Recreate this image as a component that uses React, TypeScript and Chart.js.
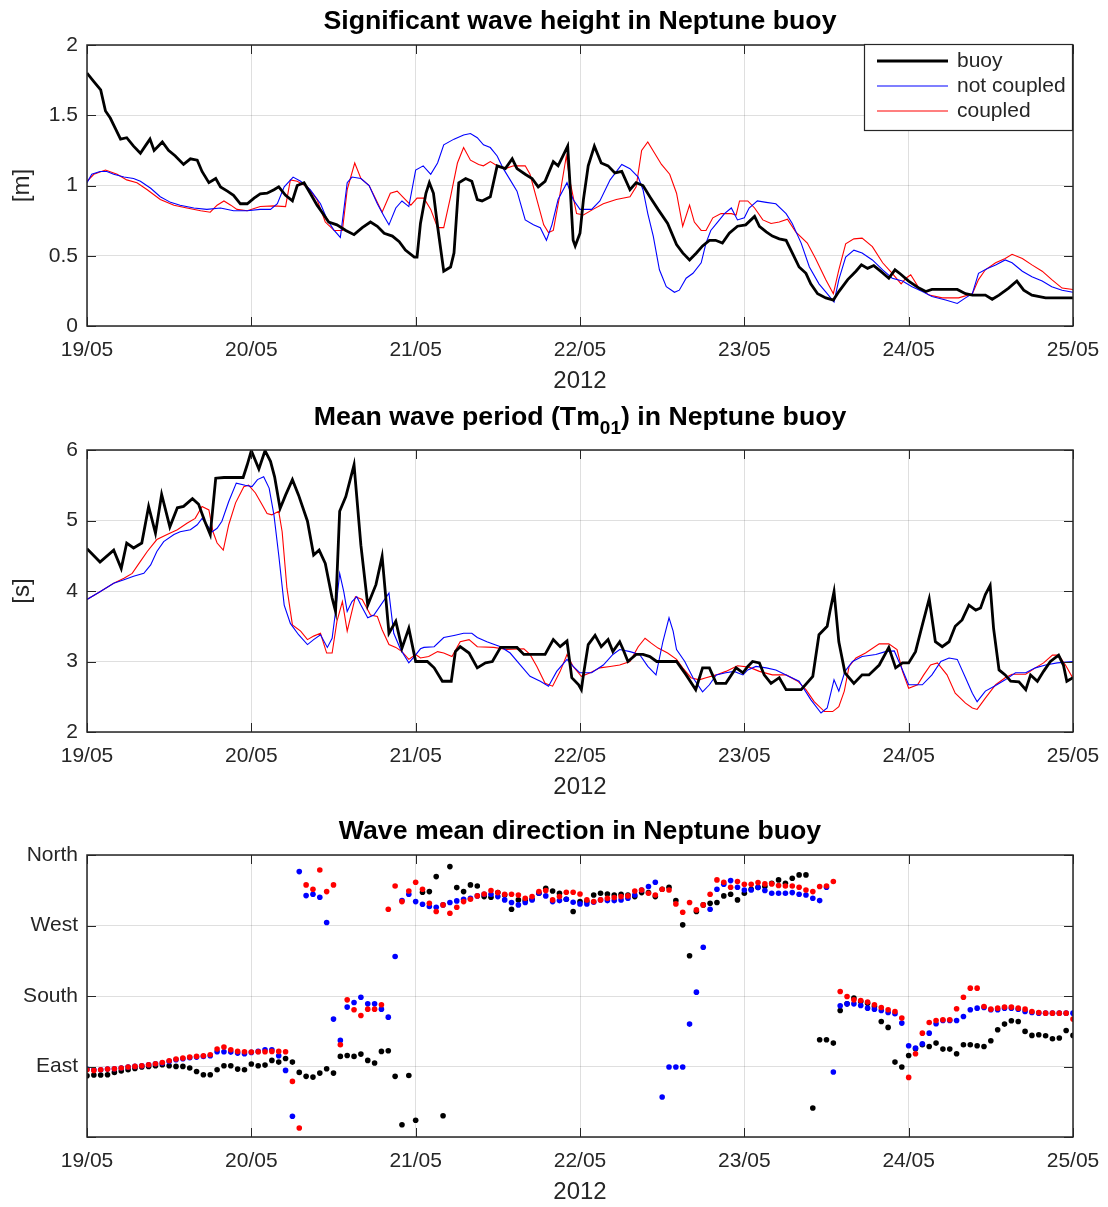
import { useEffect, useRef } from 'react';
import { Chart, registerables } from 'chart.js';

Chart.register(...registerables);

const FONT = "'Liberation Sans', Arial, Helvetica, sans-serif";
const INK = '#262626';
const GRID = 'rgba(38,38,38,0.15)';
const TICK_LEN = 9;

// ---- axis text ----
const dayLabels = ['19/05', '20/05', '21/05', '22/05', '23/05', '24/05', '25/05'];
const yearLabel = '2012';
const seriesNames = ['buoy', 'not coupled', 'coupled'];
const seriesColors = ['#000000', '#0000ff', '#ff0000'];
const dirTickValues = [90, 180, 270, 360];
const dirTickLabels = ['East', 'South', 'West', 'North'];

// ---- significant wave height [m]: [hours since 19/05 00:00, value] ----
const hsBuoy: [number, number][] = [
  [0, 1.8], [1, 1.74], [2, 1.68], [2.7, 1.53], [3.4, 1.48], [4.1, 1.41], [4.9, 1.33], [5.8, 1.34], [6.8, 1.28],
  [7.8, 1.23], [8.5, 1.28], [9.2, 1.33], [9.8, 1.25], [11, 1.31], [11.9, 1.25], [12.9, 1.21], [14.1, 1.15],
  [15.1, 1.19], [16.1, 1.18], [16.8, 1.1], [17.8, 1.02], [18.8, 1.05], [19.5, 0.99], [20.5, 0.96], [21.4, 0.93],
  [22.4, 0.87], [23.4, 0.87], [24.4, 0.91], [25.3, 0.94], [26.3, 0.945], [27.3, 0.97], [28, 0.99], [29, 0.93],
  [30, 0.89], [30.7, 1.0], [31.7, 1.02], [32.6, 0.945], [33.6, 0.86], [34.6, 0.79], [35.3, 0.74], [36.5, 0.72],
  [37.8, 0.68], [39, 0.65], [40.2, 0.7], [41.4, 0.74], [42.4, 0.71], [43.4, 0.66], [44.6, 0.64], [45.6, 0.6],
  [46.5, 0.54], [47.8, 0.49], [48.2, 0.49], [48.7, 0.73], [49.5, 0.945], [50, 1.02], [50.6, 0.945], [51.2, 0.71],
  [52.1, 0.39], [53.1, 0.42], [53.6, 0.52], [54.3, 1.02], [55.3, 1.05], [56.2, 1.03], [57, 0.9], [57.7, 0.89],
  [58.9, 0.92], [59.9, 1.14], [61.1, 1.12], [62.1, 1.19], [62.8, 1.12], [64, 1.08], [65, 1.05], [65.9, 0.99],
  [66.9, 1.03], [68.1, 1.17], [68.8, 1.14], [69.6, 1.22], [70.2, 1.28], [70.5, 1.04], [71, 0.61], [71.3, 0.57],
  [72, 0.66], [72.5, 0.9], [73.2, 1.14], [74.1, 1.28], [75.1, 1.16], [76.1, 1.14], [77.1, 1.09], [78.1, 1.1],
  [79.3, 0.97], [80.2, 1.02], [81.2, 1.0], [82.2, 0.92], [83.4, 0.83], [84.8, 0.73], [86.1, 0.58], [87, 0.52],
  [88, 0.47], [89, 0.52], [89.9, 0.57], [90.9, 0.61], [91.8, 0.61], [92.8, 0.59], [93.8, 0.66], [95, 0.71],
  [96.2, 0.72], [97.5, 0.78], [98.2, 0.71], [99.2, 0.67], [100.1, 0.64], [101.1, 0.62], [102.1, 0.61],
  [103, 0.52], [104, 0.42], [105, 0.375], [105.7, 0.3], [106.7, 0.23], [107.9, 0.2], [109, 0.185],
  [109.8, 0.245], [111.1, 0.33], [112.3, 0.39], [113.1, 0.435], [114, 0.41], [114.9, 0.43], [115.9, 0.39],
  [117.1, 0.34], [118, 0.4], [118.8, 0.37], [120, 0.32], [121.5, 0.27], [122.5, 0.245], [123.4, 0.26],
  [127.1, 0.26], [128.3, 0.23], [129.3, 0.22], [131.2, 0.22], [132.2, 0.19], [133.2, 0.22], [134.6, 0.27],
  [135.8, 0.32], [136.8, 0.255], [138, 0.22], [140, 0.2], [144, 0.2],
];
const hsNotCoupled: [number, number][] = [
  [0, 1.02], [0.7, 1.08], [1.9, 1.1], [2.9, 1.1], [3.9, 1.08], [5.4, 1.06], [6.8, 1.05], [7.8, 1.03], [9.3, 0.98],
  [10.7, 0.92], [12.2, 0.88], [13.6, 0.86], [15.6, 0.84], [17.5, 0.83], [19.5, 0.84], [21.4, 0.82], [23.4, 0.82],
  [25.3, 0.83], [26.8, 0.83], [27.8, 0.87], [28.8, 0.99], [30.1, 1.06], [31.2, 1.03], [32.6, 0.97], [34.1, 0.87],
  [35.1, 0.755], [36.1, 0.68], [37, 0.63], [38, 1.02], [38.7, 1.06], [40, 1.05], [41.2, 1.0], [42.4, 0.87],
  [43.4, 0.78], [44.1, 0.72], [45.1, 0.84], [46, 0.89], [47, 0.85], [48, 1.11], [49.1, 1.14], [50.2, 1.08],
  [51.2, 1.16], [52.1, 1.29], [53.6, 1.33], [55, 1.36], [56, 1.37], [57, 1.34], [57.9, 1.29], [58.9, 1.27],
  [59.9, 1.21], [60.8, 1.12], [61.8, 1.04], [62.8, 0.96], [64, 0.755], [65.2, 0.72], [66.2, 0.7], [67.1, 0.61],
  [67.9, 0.72], [68.8, 0.9], [70.1, 1.02], [71, 0.9], [72, 0.83], [73.7, 0.83], [74.9, 0.89], [76.4, 1.04],
  [78.1, 1.15], [79.3, 1.12], [80.5, 1.06], [81.2, 0.97], [81.9, 0.8], [82.7, 0.64], [83.6, 0.4], [84.6, 0.28],
  [85.8, 0.24], [86.5, 0.255], [87.5, 0.34], [88.5, 0.375], [89.7, 0.45], [90.4, 0.59], [91.1, 0.68],
  [92.1, 0.74], [93.1, 0.8], [94.1, 0.84], [95, 0.755], [96, 0.77], [96.7, 0.84], [97.9, 0.89], [99.2, 0.88],
  [100.6, 0.87], [102.1, 0.8], [103, 0.73], [104.3, 0.59], [105.5, 0.42], [106.9, 0.3], [108.1, 0.23],
  [109.1, 0.17], [109.8, 0.33], [110.8, 0.49], [112, 0.54], [113.2, 0.52], [114.7, 0.47], [116.2, 0.4],
  [117.6, 0.34], [119.1, 0.32], [120.5, 0.28], [122, 0.245], [123.4, 0.21], [125.4, 0.185], [127.1, 0.16],
  [128.3, 0.2], [129.3, 0.23], [130.2, 0.375], [131.5, 0.41], [132.7, 0.435], [134.1, 0.47], [135.1, 0.45],
  [136.6, 0.39], [138, 0.35], [139.5, 0.32], [140.9, 0.28], [142.4, 0.255], [144, 0.24],
];
const hsCoupled: [number, number][] = [
  [0, 1.03], [1, 1.08], [2.7, 1.11], [4.4, 1.08], [5.8, 1.04], [7.3, 1.02], [8.8, 0.97], [10.7, 0.9], [12.7, 0.86],
  [14.6, 0.84], [16.6, 0.82], [18, 0.81], [19, 0.86], [20, 0.89], [21, 0.86], [21.9, 0.83], [23.4, 0.82],
  [25.3, 0.85], [27.3, 0.855], [29, 0.85], [29.7, 1.04], [30.7, 1.03], [32.2, 0.99], [33.6, 0.9], [34.8, 0.74],
  [36.1, 0.68], [37.3, 0.68], [38, 0.97], [39.1, 1.16], [40, 1.05], [41.2, 1.0], [42.2, 0.9], [43.1, 0.81],
  [44.3, 0.945], [45.3, 0.96], [46.5, 0.9], [47.3, 0.86], [48.2, 0.91], [49.2, 0.91], [50.2, 0.83], [51.2, 0.7],
  [52.1, 0.7], [53.1, 0.92], [54.1, 1.16], [55, 1.27], [56, 1.18], [57.2, 1.15], [57.9, 1.14], [58.9, 1.17],
  [59.9, 1.14], [61.1, 1.12], [62.3, 1.14], [64, 1.14], [64.7, 1.08], [65.7, 0.9], [66.7, 0.72], [67.4, 0.665],
  [68.1, 0.68], [69.1, 0.945], [70, 1.21], [70.5, 1.04], [71.5, 0.8], [72.5, 0.79], [73.9, 0.83], [75.4, 0.87],
  [77.3, 0.9], [79.3, 0.92], [80.2, 0.99], [81, 1.25], [81.9, 1.31], [82.9, 1.23], [83.9, 1.15], [85.1, 1.08],
  [86.1, 0.945], [87, 0.71], [88, 0.86], [88.7, 0.74], [89.7, 0.68], [90.4, 0.68], [91.4, 0.77], [92.6, 0.8],
  [94.1, 0.8], [94.8, 0.79], [95.3, 0.89], [96.5, 0.89], [97.5, 0.84], [98.7, 0.755], [99.9, 0.73], [101.1, 0.74],
  [102.3, 0.76], [103.5, 0.67], [105.2, 0.59], [106.4, 0.48], [107.9, 0.33], [109, 0.23], [109.8, 0.4],
  [110.8, 0.585], [112, 0.62], [113.2, 0.625], [114.7, 0.565], [116.2, 0.45], [117.6, 0.375], [118.9, 0.3],
  [119.6, 0.34], [120.3, 0.365], [121.5, 0.27], [123, 0.22], [124.9, 0.2], [127.3, 0.2], [129.3, 0.23],
  [130.2, 0.33], [131.2, 0.4], [132.7, 0.45], [134.1, 0.48], [135.1, 0.51], [136.6, 0.48], [138, 0.435],
  [139.5, 0.39], [140.9, 0.33], [142.4, 0.27], [144, 0.26],
];

// ---- mean wave period Tm01 [s]: [hours since 19/05 00:00, value] ----
const tmBuoy: [number, number][] = [
  [0, 4.6], [1.9, 4.41], [3.9, 4.58], [5, 4.32], [5.8, 4.68], [6.8, 4.61], [8, 4.68], [9, 5.2], [10, 4.82],
  [10.9, 5.37], [12.1, 4.91], [13.2, 5.18], [14.1, 5.2], [15.4, 5.31], [16.3, 5.23], [17.2, 4.99], [18, 4.8],
  [18.8, 5.6], [20, 5.61], [22.8, 5.61], [23.4, 5.79], [24, 5.99], [25.1, 5.73], [26, 5.99], [26.8, 5.84],
  [27.4, 5.62], [28.2, 5.17], [29, 5.36], [30, 5.58], [30.9, 5.36], [32.2, 4.99], [33.1, 4.51], [33.9, 4.58],
  [34.8, 4.39], [35.8, 3.9], [36.3, 3.71], [36.9, 5.13], [37.8, 5.34], [39, 5.79], [40, 4.65], [41, 3.8],
  [42.2, 4.09], [43.1, 4.49], [44.1, 3.4], [45.1, 3.57], [46, 3.19], [47, 3.47], [48, 3.0], [49.7, 3.0],
  [50.7, 2.91], [51.9, 2.72], [53.2, 2.72], [53.8, 3.14], [54.5, 3.21], [55.8, 3.12], [57, 2.91], [58.2, 2.98],
  [59.2, 3.0], [60.4, 3.2], [62.8, 3.2], [63.8, 3.1], [66.9, 3.1], [68.1, 3.31], [69.1, 3.21], [70.1, 3.29],
  [70.8, 2.77], [71.8, 2.67], [72.2, 2.6], [72.5, 2.81], [73.2, 3.24], [74.2, 3.37], [75.1, 3.21], [76.1, 3.31],
  [76.8, 3.14], [77.8, 3.28], [78.3, 3.17], [79, 3.0], [80.2, 3.1], [81.2, 3.1], [82.2, 3.07], [83.2, 3.0],
  [86.1, 3.0], [87.5, 2.81], [88.9, 2.6], [89.9, 2.91], [90.9, 2.91], [91.9, 2.69], [93.3, 2.69], [94.8, 2.91],
  [95.8, 2.84], [96.5, 2.93], [97.2, 3.0], [98.2, 2.98], [98.9, 2.81], [99.9, 2.69], [101.1, 2.77], [102.1, 2.6],
  [104.3, 2.6], [106, 2.79], [106.9, 3.38], [108.1, 3.5], [108.5, 3.71], [109.1, 3.99], [109.8, 3.28],
  [110.7, 2.84], [112, 2.69], [113.2, 2.81], [114.2, 2.81], [115.7, 2.95], [117.1, 3.2], [118.1, 2.91],
  [119.1, 2.98], [120, 2.98], [121, 3.14], [122, 3.52], [123, 3.89], [123.9, 3.28], [124.9, 3.21], [125.9, 3.28],
  [126.8, 3.5], [127.8, 3.59], [128.8, 3.8], [129.8, 3.73], [130.5, 3.76], [131.2, 3.95], [131.9, 4.08],
  [132.4, 3.47], [133.2, 2.88], [134.1, 2.81], [134.9, 2.72], [136.1, 2.71], [137.1, 2.6], [137.8, 2.81],
  [138.8, 2.72], [139.7, 2.86], [140.7, 3.0], [141.9, 3.09], [142.6, 2.95], [143.1, 2.72], [144, 2.77],
];
const tmNotCoupled: [number, number][] = [
  [0, 3.88], [1.9, 3.99], [3.9, 4.11], [5.4, 4.16], [6.8, 4.21], [8.3, 4.25], [9.3, 4.37], [10.2, 4.56],
  [11.2, 4.7], [12.7, 4.8], [13.6, 4.84], [15.1, 4.87], [16.1, 4.94], [16.8, 5.03], [17.5, 4.94], [18.3, 4.84],
  [19, 4.89], [19.7, 4.99], [20.7, 5.27], [21.8, 5.53], [23.1, 5.5], [24.1, 5.48], [24.9, 5.58], [25.8, 5.62],
  [26.6, 5.46], [27.3, 5.08], [28, 4.51], [28.8, 3.8], [29.7, 3.54], [30.9, 3.38], [32.2, 3.24], [33.1, 3.31],
  [34.1, 3.38], [35.1, 3.2], [35.8, 3.33], [36.3, 3.71], [36.9, 4.25], [37.5, 3.99], [38, 3.71], [38.7, 3.85],
  [39.4, 3.92], [40, 3.8], [41, 3.62], [41.9, 3.66], [44.1, 3.97], [44.8, 3.4], [45.8, 3.17], [47, 2.98],
  [47.8, 3.07], [48.7, 3.18], [49.2, 3.2], [50.7, 3.21], [52.1, 3.34], [53.6, 3.37], [55, 3.4], [56.2, 3.4],
  [57, 3.34], [58.4, 3.28], [60.4, 3.21], [61.8, 3.12], [63.3, 2.95], [64.7, 2.79], [66.2, 2.72], [67.4, 2.65],
  [68.6, 2.86], [70.1, 3.03], [71, 2.93], [72, 2.84], [73.7, 2.84], [75.4, 2.95], [76.8, 3.1], [77.8, 3.17],
  [79.3, 3.14], [80.7, 3.1], [81.9, 2.93], [83.1, 2.81], [84.1, 3.28], [85, 3.62], [85.6, 3.43], [86.1, 3.17],
  [87.3, 3.0], [88.5, 2.77], [89.9, 2.57], [90.9, 2.67], [91.9, 2.81], [93.3, 2.84], [94.5, 2.86], [95.8, 2.81],
  [96.5, 2.88], [97.7, 2.93], [99.2, 2.91], [100.6, 2.88], [102.1, 2.81], [104, 2.72], [105.7, 2.46],
  [107.2, 2.27], [108.1, 2.34], [109.1, 2.74], [109.8, 2.58], [110.7, 2.86], [111.8, 3.0], [113.2, 3.07],
  [115.2, 3.1], [116.6, 3.14], [117.9, 3.15], [119.1, 2.88], [120, 2.67], [122, 2.67], [123.4, 2.81],
  [124.7, 3.0], [125.9, 3.05], [127.1, 3.03], [128.3, 2.77], [129.3, 2.55], [130, 2.43], [131.2, 2.58],
  [132.7, 2.66], [134.1, 2.74], [135.6, 2.84], [137.1, 2.84], [138.5, 2.91], [140, 2.95], [141.7, 2.98],
  [144, 3.0],
];
const tmCoupled: [number, number][] = [
  [0, 3.88], [1.9, 3.99], [3.9, 4.11], [5.4, 4.18], [6.6, 4.25], [7.8, 4.42], [8.8, 4.56], [10.2, 4.73],
  [11.7, 4.8], [13.2, 4.87], [14.6, 4.96], [15.8, 5.03], [16.8, 5.2], [17.8, 5.15], [18.4, 4.84], [19, 4.68],
  [19.9, 4.58], [20.7, 4.94], [21.7, 5.25], [22.9, 5.48], [23.6, 5.5], [24.6, 5.39], [25.6, 5.22], [26.3, 5.1],
  [27, 5.08], [28, 5.13], [28.5, 4.84], [29.2, 4.04], [30, 3.52], [31.2, 3.43], [32.2, 3.31], [33.1, 3.36],
  [34.1, 3.4], [35, 3.12], [35.8, 3.12], [36.5, 3.57], [37.3, 3.85], [38, 3.43], [39.2, 3.92], [40.2, 3.88],
  [41.4, 3.66], [42.4, 3.64], [43.1, 3.45], [44.1, 3.24], [45.1, 3.2], [46, 3.14], [47, 3.03], [48, 3.1],
  [48.7, 3.05], [49.9, 3.07], [51.2, 3.14], [52.1, 3.12], [53.3, 3.07], [54.5, 3.28], [55.8, 3.31], [57, 3.21],
  [59.4, 3.2], [61.3, 3.17], [63.8, 3.18], [64.7, 3.1], [65.7, 2.93], [66.9, 2.69], [68, 2.65], [69.1, 2.86],
  [70.1, 3.1], [71, 2.93], [72.2, 2.79], [73.5, 2.84], [74.9, 2.91], [76.4, 2.93], [77.8, 2.95], [79.3, 3.0],
  [80.5, 3.21], [81.5, 3.33], [82.4, 3.26], [83.4, 3.19], [84.8, 3.12], [86.1, 3.03], [87, 2.91], [88.2, 2.77],
  [89.4, 2.74], [90.4, 2.77], [91.9, 2.81], [93.3, 2.86], [95, 2.94], [96.7, 2.92], [98.2, 2.86], [100.1, 2.81],
  [102.1, 2.81], [103.8, 2.72], [105, 2.6], [106.2, 2.43], [107.7, 2.29], [108.9, 2.29], [109.8, 2.36],
  [110.6, 2.58], [111.3, 2.93], [112.3, 3.05], [113.7, 3.12], [115.7, 3.25], [117.1, 3.25], [118.3, 3.17],
  [119.1, 2.86], [120, 2.62], [121.3, 2.67], [122.2, 2.81], [123.2, 2.95], [124.2, 2.98], [125.6, 2.81],
  [126.8, 2.55], [128.3, 2.41], [129.3, 2.34], [130, 2.32], [131.2, 2.48], [132.7, 2.67], [134.1, 2.77],
  [135.1, 2.82], [137.1, 2.82], [138.5, 2.91], [139.7, 2.98], [141, 3.09], [141.9, 3.09], [142.9, 2.95],
  [144, 2.76],
];

// ---- wave mean direction [deg], hourly from 19/05 00:00 to 25/05 00:00 ----
const dirBuoy: number[] = [
  78.2, 79.1, 79.1, 79.5, 82.5, 84.2, 85.9, 87.6, 89.3, 90.1,
  91.0, 92.2, 91.0, 90.1, 90.1, 88.0, 83.7, 79.5, 79.5, 85.9,
  91.0, 91.0, 86.7, 85.9, 93.1, 91.0, 91.8, 97.8, 95.6, 100.3,
  95.6, 82.5, 77.4, 76.5, 81.6, 87.1, 81.6, 102.9, 104.1, 102.9,
  105.8, 97.8, 94.4, 109.3, 110.1, 77.4, 15.7, 78.6, 21.3, 312.4,
  313.3, 332.4, 27.2, 345.2, 318.4, 313.3, 321.8, 320.5, 306.9, 306.1,
  312.0, 309.0, 290.8, 302.7, 301.8, 303.5, 311.2, 317.6, 314.1, 311.2,
  303.5, 287.8, 300.5, 300.5, 309.0, 311.2, 310.3, 309.0, 309.9, 309.0,
  306.9, 312.0, 312.0, 306.9, 316.3, 318.8, 301.8, 270.8, 231.3, 287.8,
  296.3, 298.4, 299.3, 307.8, 309.9, 302.7, 311.2, 316.3, 318.8, 319.7,
  323.9, 328.2, 323.9, 330.3, 334.6, 334.6, 37.0, 124.1, 124.1, 119.9,
  161.5, 170.0, 177.3, 173.0, 170.9, 166.6, 147.5, 139.9, 95.6, 89.3,
  104.1, 112.7, 117.8, 115.6, 119.9, 112.2, 112.2, 106.3, 117.8, 117.8,
  116.5, 115.6, 122.9, 136.9, 144.1, 148.4, 147.5, 134.8, 129.7, 130.5,
  129.2, 125.4, 126.3, 136.0, 129.7,
];
const dirNotCoupled: number[] = [
  86.7, 85.9, 85.9, 86.7, 87.1, 88.0, 89.3, 90.1, 91.0, 92.2,
  93.5, 94.4, 96.5, 98.6, 99.9, 101.2, 102.0, 102.9, 103.7, 108.8,
  108.8, 108.4, 107.1, 106.3, 108.0, 109.3, 111.4, 111.4, 103.7, 85.0,
  26.4, 338.8, 308.2, 309.9, 306.1, 273.8, 150.5, 123.3, 165.8, 171.7,
  178.5, 170.0, 170.0, 163.2, 153.0, 230.4, 301.8, 309.9, 300.5, 297.1,
  294.2, 293.3, 296.3, 299.3, 301.4, 303.5, 304.8, 307.8, 309.9, 309.9,
  306.9, 302.7, 299.3, 296.3, 299.3, 302.7, 311.2, 307.8, 300.5, 301.8,
  303.5, 299.7, 297.6, 297.6, 299.7, 302.7, 301.8, 301.8, 302.7, 304.8,
  309.0, 315.4, 319.7, 325.2, 51.0, 89.3, 89.3, 89.3, 144.1, 184.9,
  242.3, 290.8, 316.3, 322.7, 327.3, 318.8, 315.4, 315.4, 318.4, 314.6,
  311.2, 311.2, 311.2, 312.0, 309.9, 309.0, 304.8, 301.8, 318.8, 82.9,
  167.5, 170.0, 170.0, 167.9, 164.5, 163.2, 161.5, 159.0, 157.3, 145.4,
  116.5, 113.5, 119.0, 132.6, 144.5, 148.8, 148.8, 148.8, 153.9, 162.4,
  164.5, 165.4, 162.4, 162.4, 164.5, 164.5, 163.2, 160.3, 159.0, 158.1,
  158.1, 158.1, 158.1, 158.1, 158.1,
];
const dirCoupled: number[] = [
  85.9, 85.0, 85.9, 86.7, 87.1, 88.0, 89.3, 90.1, 91.0, 92.2,
  93.5, 95.2, 97.3, 99.5, 100.7, 102.0, 102.9, 103.7, 105.0, 112.2,
  114.8, 111.4, 109.3, 108.8, 108.4, 108.8, 108.8, 109.3, 109.3, 108.8,
  71.0, 11.5, 321.8, 316.3, 340.9, 313.3, 321.8, 117.8, 175.1, 162.4,
  155.2, 163.2, 163.2, 168.8, 290.8, 320.5, 300.5, 314.1, 325.2, 316.3,
  298.4, 287.8, 296.3, 285.7, 293.3, 300.5, 303.5, 307.8, 310.3, 314.6,
  312.0, 309.9, 309.9, 309.0, 304.8, 306.9, 313.3, 314.6, 302.7, 306.9,
  312.4, 312.4, 310.3, 302.7, 300.5, 302.7, 304.8, 305.6, 306.9, 307.8,
  314.1, 315.4, 311.2, 309.0, 316.3, 315.4, 297.6, 286.9, 299.3, 289.9,
  296.3, 309.9, 328.2, 325.2, 318.8, 326.1, 322.7, 322.7, 324.8, 323.1,
  323.1, 321.0, 320.5, 320.5, 318.8, 315.4, 313.3, 319.7, 320.5, 326.1,
  185.8, 179.4, 175.1, 174.3, 172.2, 168.8, 165.4, 162.4, 160.3, 151.8,
  76.1, 106.3, 132.6, 146.2, 148.8, 149.6, 149.6, 163.7, 178.5, 190.0,
  190.0, 166.6, 163.2, 164.5, 165.8, 165.8, 164.5, 163.2, 160.3, 159.0,
  158.1, 158.1, 158.1, 158.1, 150.5,
];

type Seg = { text: string; sub?: boolean };

const tickFont = { family: FONT, size: 21 };
const labelFont = { family: FONT, size: 24 };

// Draws the boxed axes (inward ticks on all four sides), the bold title and the in-plot legend.
const framePlugin = {
  id: 'frame',
  afterDraw(chart: any, _args: any, opts: any) {
    const { ctx, chartArea } = chart;
    const { left, right, top, bottom } = chartArea;
    const xs = chart.scales.x;
    const ys = chart.scales.y;
    ctx.save();
    ctx.strokeStyle = INK;
    ctx.lineWidth = 1;
    ctx.beginPath();
    for (const t of xs.ticks) {
      const px = Math.round(xs.getPixelForValue(t.value)) + 0.5;
      ctx.moveTo(px, bottom);
      ctx.lineTo(px, bottom - TICK_LEN);
      ctx.moveTo(px, top);
      ctx.lineTo(px, top + TICK_LEN);
    }
    for (const t of ys.ticks) {
      const py = Math.round(ys.getPixelForValue(t.value)) + 0.5;
      ctx.moveTo(left, py);
      ctx.lineTo(left + TICK_LEN, py);
      ctx.moveTo(right, py);
      ctx.lineTo(right - TICK_LEN, py);
    }
    ctx.stroke();
    ctx.lineWidth = 1.5;
    ctx.strokeRect(left, top, right - left, bottom - top);

    // title, with optional subscript pieces
    const segs: Seg[] = opts.title || [];
    const mainFont = `bold 26.7px ${FONT}`;
    const subFont = `bold 19px ${FONT}`;
    let total = 0;
    for (const s of segs) {
      ctx.font = s.sub ? subFont : mainFont;
      total += ctx.measureText(s.text).width;
    }
    let x = (left + right) / 2 - total / 2;
    const baseY = top - opts.titleGap;
    ctx.fillStyle = '#000';
    ctx.textBaseline = 'alphabetic';
    ctx.textAlign = 'left';
    for (const s of segs) {
      ctx.font = s.sub ? subFont : mainFont;
      ctx.fillText(s.text, x, s.sub ? baseY + 9 : baseY);
      x += ctx.measureText(s.text).width;
    }

    // legend box in the upper-right corner
    if (opts.legend) {
      const w = 209;
      const h = 87;
      const bx = right - w;
      const by = top - 1;
      ctx.fillStyle = '#fff';
      ctx.fillRect(bx, by, w, h);
      ctx.lineWidth = 1.2;
      ctx.strokeStyle = INK;
      ctx.strokeRect(bx + 0.5, by + 0.5, w - 1, h - 1);
      ctx.font = `21px ${FONT}`;
      ctx.textBaseline = 'middle';
      chart.data.datasets.forEach((ds: any, i: number) => {
        const yy = by + 17 + i * 25;
        ctx.strokeStyle = ds.borderColor;
        ctx.lineWidth = ds.borderWidth;
        ctx.beginPath();
        ctx.moveTo(bx + 13, yy);
        ctx.lineTo(bx + 84, yy);
        ctx.stroke();
        ctx.fillStyle = INK;
        ctx.fillText(ds.label, bx + 93, yy);
      });
    }
    ctx.restore();
  },
};

function xScale() {
  return {
    type: 'linear',
    min: 0,
    max: 144,
    ticks: {
      stepSize: 24,
      autoSkip: false,
      maxRotation: 0,
      padding: 12,
      color: INK,
      font: tickFont,
      callback: (v: number) => dayLabels[Math.round(v / 24)] ?? '',
    },
    grid: { color: GRID, lineWidth: 1, drawTicks: false },
    border: { display: false },
    title: { display: true, text: yearLabel, color: INK, font: labelFont, padding: { top: 0, bottom: 5 } },
    afterFit: (s: any) => {
      s.height = 75;
      s.paddingLeft = 0;
      s.paddingRight = 0;
    },
  };
}

function yScale(min: number, max: number, step: number, title: string | null, labels?: (v: number) => string) {
  return {
    type: 'linear',
    min,
    max,
    ticks: {
      stepSize: step,
      padding: 9,
      color: INK,
      font: tickFont,
      callback: labels ?? ((v: number) => String(v)),
    },
    grid: { color: GRID, lineWidth: 1, drawTicks: false },
    border: { display: false },
    title: title
      ? { display: true, text: title, color: INK, font: labelFont, padding: { top: 8, bottom: 0 } }
      : { display: false },
    afterFit: (s: any) => {
      s.width = 87;
      s.paddingTop = 0;
      s.paddingBottom = 0;
    },
  };
}

const toPoints = (pairs: [number, number][]) => pairs.map(([x, y]) => ({ x, y }));
const hourly = (vals: number[]) => vals.map((y, x) => ({ x, y }));

function lineDatasets(series: [number, number][][]) {
  return series.map((s, i) => ({
    label: seriesNames[i],
    data: toPoints(s),
    borderColor: seriesColors[i],
    borderWidth: i === 0 ? 2.8 : 1.1,
    pointRadius: 0,
    tension: 0,
    fill: false,
  }));
}

function baseOptions(plotTop: number, titleSegs: Seg[], titleGap: number, legend: boolean) {
  return {
    responsive: false,
    animation: false,
    events: [],
    layout: { padding: { top: plotTop, right: 35, bottom: 0, left: 0 } },
    plugins: {
      legend: { display: false },
      title: { display: false },
      tooltip: { enabled: false },
      frame: { title: titleSegs, titleGap, legend },
    },
  };
}

const panels = [
  {
    top: 0,
    height: 401,
    config: () => ({
      type: 'line',
      data: { datasets: lineDatasets([hsBuoy, hsNotCoupled, hsCoupled]) },
      options: {
        ...baseOptions(45, [{ text: 'Significant wave height in Neptune buoy' }], 16, true),
        scales: { x: xScale(), y: yScale(0, 2, 0.5, '[m]') },
      },
      plugins: [framePlugin],
    }),
  },
  {
    top: 401,
    height: 406,
    config: () => ({
      type: 'line',
      data: { datasets: lineDatasets([tmBuoy, tmNotCoupled, tmCoupled]) },
      options: {
        ...baseOptions(
          49,
          [{ text: 'Mean wave period (Tm' }, { text: '01', sub: true }, { text: ') in Neptune buoy' }],
          25,
          false,
        ),
        scales: { x: xScale(), y: yScale(2, 6, 1, '[s]') },
      },
      plugins: [framePlugin],
    }),
  },
  {
    top: 807,
    height: 405,
    config: () => ({
      type: 'scatter',
      data: {
        datasets: [dirCoupled, dirNotCoupled, dirBuoy].map((vals, k) => {
          const i = 2 - k;
          return {
            label: seriesNames[i],
            data: hourly(vals),
            backgroundColor: seriesColors[i],
            borderWidth: 0,
            pointRadius: 2.8,
            showLine: false,
          };
        }),
      },
      options: {
        ...baseOptions(48, [{ text: 'Wave mean direction in Neptune buoy' }], 16, false),
        scales: {
          x: xScale(),
          y: yScale(0, 360, 90, null, (v: number) => {
            const k = dirTickValues.indexOf(v);
            return k >= 0 ? dirTickLabels[k] : '';
          }),
        },
      },
      plugins: [framePlugin],
    }),
  },
];

function Panel({ top, height, config }: { top: number; height: number; config: () => any }) {
  const ref = useRef<HTMLCanvasElement>(null);
  useEffect(() => {
    const chart = new Chart(ref.current as HTMLCanvasElement, config());
    return () => chart.destroy();
  }, []);
  return (
    <canvas
      ref={ref}
      width={1108}
      height={height}
      style={{ position: 'absolute', left: 0, top, width: 1108, height }}
    />
  );
}

export default function App() {
  return (
    <div
      style={{
        position: 'absolute',
        left: 0,
        top: 0,
        width: 1108,
        height: 1207,
        overflow: 'hidden',
        background: '#fff',
      }}
    >
      {panels.map((p, i) => (
        <Panel key={i} top={p.top} height={p.height} config={p.config} />
      ))}
    </div>
  );
}
